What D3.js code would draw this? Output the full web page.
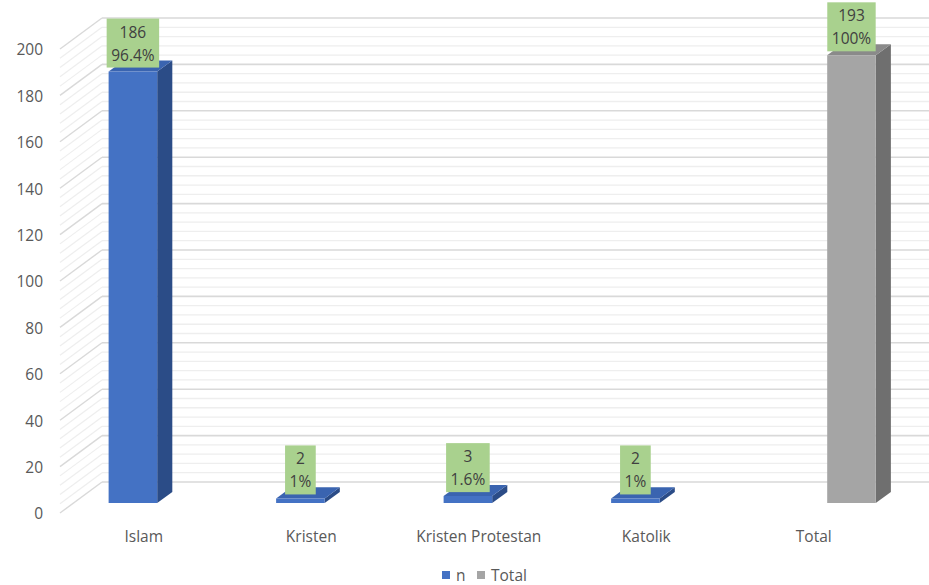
<!DOCTYPE html>
<html>
<head>
<meta charset="utf-8">
<script src="https://cdn.jsdelivr.net/npm/d3@7"></script>
<style>
  html, body { margin: 0; padding: 0; background: #ffffff; }
  svg { display: block; font-family: "Open Sans", "Liberation Sans", sans-serif; }
</style>
</head>
<body>
<svg id="chart" width="929" height="585"></svg>
<script>
// Religion distribution of respondents
const categories = ["Islam", "Kristen", "Kristen Protestan", "Katolik", "Total"];
const seriesNames = ["n", "Total"];
const nValues = [186, 2, 3, 2, null];
const totalValues = [null, null, null, null, 193];
const percentLabels = ["96.4%", "1%", "1.6%", "1%", "100%"];
const yTicks = [0, 20, 40, 60, 80, 100, 120, 140, 160, 180, 200];

const W = 929, H = 585;
const FONT = "15.5px";
const svg = d3.select("#chart");

// oblique 3D projection: depth z in [0,1] shifts right and up
const depthX = 42, depthY = 31;
const floorY = 513;          // front edge of the floor (value 0)
const wallLeft = 60;         // front-left corner of the side wall
const rightEdge = 929;

const y = d3.scaleLinear().domain([0, 200]).range([floorY, floorY - 464]);
const x = d3.scaleBand().domain(categories).range([wallLeft, wallLeft + 837.5])
  .paddingInner(0.42).paddingOuter(0.21);
const xs = d3.scaleBand().domain(seriesNames).range([0, x.bandwidth()]);

const proj = (px, v, z) => [px + z * depthX, y(v) - z * depthY];

const colors = {
  n: { front: "#4472C4", side: "#2B4C87", top: "#3A64B0" },
  Total: { front: "#A5A5A5", side: "#6F6F6F", top: "#8A8A8A" }
};

// gridlines: minor every 4, major every 20
const gridG = svg.append("g");
d3.range(0, 201, 4).forEach(v => {
  const major = v % 20 === 0;
  const col = major ? "#d9d9d9" : "#eeeeee";
  const a = proj(wallLeft, v, 0), b = proj(wallLeft, v, 1);
  gridG.append("line").attr("x1", a[0]).attr("y1", a[1]).attr("x2", b[0]).attr("y2", b[1])
    .attr("stroke", col).attr("stroke-width", major ? 1.4 : 1.2);
  gridG.append("line").attr("x1", b[0]).attr("y1", b[1]).attr("x2", rightEdge).attr("y2", b[1])
    .attr("stroke", col).attr("stroke-width", major ? 1.6 : 1.3);
});

// y axis labels
const yAxis = d3.axisLeft(y).tickValues(yTicks).tickSize(0).tickPadding(0);
const yG = svg.append("g").attr("transform", "translate(43,1)").call(yAxis);
yG.select(".domain").remove();
yG.selectAll("text").attr("fill", "#595959").style("font-size", FONT)
  .style("font-family", "'Open Sans', sans-serif");

// x axis labels
const xAxis = d3.axisBottom(x).tickSize(0).tickPadding(0);
const xG = svg.append("g").attr("transform", "translate(0,531)").call(xAxis);
xG.select(".domain").remove();
xG.selectAll("text").attr("fill", "#595959").style("font-size", FONT)
  .style("font-family", "'Open Sans', sans-serif");

// bars
const zFront = 0.32, zBack = 0.68;
const bars = [];
categories.forEach((c, i) => {
  if (nValues[i] != null) bars.push({ cat: c, s: "n", v: nValues[i], pct: percentLabels[i] });
  if (totalValues[i] != null) bars.push({ cat: c, s: "Total", v: totalValues[i], pct: percentLabels[i] });
});

const barG = svg.append("g");
const poly = pts => pts.map(p => p.join(",")).join(" ");
bars.forEach(d => {
  const x0 = x(d.cat) + xs(d.s), x1 = x0 + xs.bandwidth();
  const c = colors[d.s];
  const fbl = proj(x0, 0, zFront), fbr = proj(x1, 0, zFront);
  const ftl = proj(x0, d.v, zFront), ftr = proj(x1, d.v, zFront);
  const bbr = proj(x1, 0, zBack), btr = proj(x1, d.v, zBack), btl = proj(x0, d.v, zBack);
  barG.append("polygon").attr("points", poly([fbr, bbr, btr, ftr])).attr("fill", c.side);
  barG.append("polygon").attr("points", poly([ftl, ftr, btr, btl])).attr("fill", c.top);
  barG.append("polygon").attr("points", poly([fbl, fbr, ftr, ftl])).attr("fill", c.front);
  d.cx = (x0 + x1) / 2 + zFront * depthX;
  d.topY = ftl[1];
});

// data labels
const labelG = svg.append("g");
bars.forEach(d => {
  const g = labelG.append("g");
  const t1 = g.append("text").text(d.v).attr("x", d.cx).attr("y", 0)
    .attr("text-anchor", "middle").attr("fill", "#404040").style("font-size", FONT);
  const t2 = g.append("text").text(d.pct).attr("x", d.cx).attr("y", 0)
    .attr("text-anchor", "middle").attr("fill", "#404040").style("font-size", FONT);
  const w = Math.max(t1.node().getComputedTextLength(), t2.node().getComputedTextLength()) + 9;
  const hBox = 49;
  const bottom = d.topY - 4, top = bottom - hBox;
  g.insert("rect", "text").attr("x", d.cx - w / 2).attr("y", top).attr("width", w).attr("height", hBox)
    .attr("fill", "#A9D18E");
  t1.attr("y", top + 19);
  t2.attr("y", top + 42);
});

// legend
const legend = svg.append("g").attr("transform", "translate(0,575)");
const legendItems = [
  { name: "n", color: colors.n.front, x: 442 },
  { name: "Total", color: colors.Total.front, x: 477 }
];
legendItems.forEach(it => {
  legend.append("rect").attr("x", it.x).attr("y", -4).attr("width", 8).attr("height", 8).attr("fill", it.color);
  legend.append("text").attr("x", it.x + 14).attr("y", 5.5).text(it.name)
    .attr("fill", "#595959").style("font-size", FONT);
});
</script>
</body>
</html>
